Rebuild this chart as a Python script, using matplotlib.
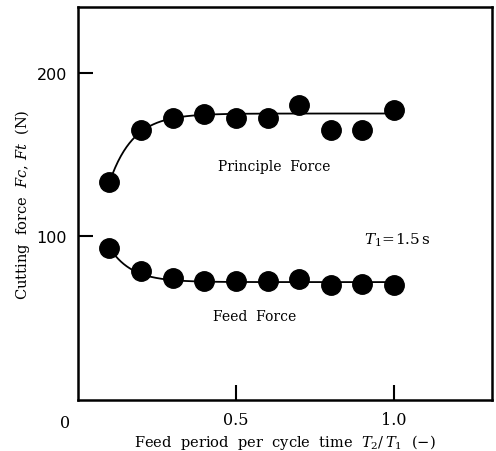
import numpy as np
import matplotlib
matplotlib.use("Agg")
import matplotlib.pyplot as plt

plt.rcParams['font.family'] = ['DejaVu Serif']
plt.rcParams['mathtext.fontset'] = 'dejavuserif'

# Measured cutting forces versus feed ratio T2/T1
ratio = [0.1, 0.2, 0.3, 0.4, 0.5, 0.6, 0.7, 0.8, 0.9, 1.0]
principal_force = [133, 165, 172, 175, 172, 172, 180, 165, 165, 177]
feed_force = [93, 79, 74.5, 72.5, 72.5, 72.5, 74, 70, 71, 70]

# Saturating trend lines: plateau, initial value, decay length
principal_fit = (175, 133, 0.075)
feed_fit = (72, 93, 0.07)

x_ticks = [0.5, 1.0]
x_tick_labels = ["0.5", "1.0"]
y_ticks = [100, 200]
y_tick_labels = ["100", "200"]


def trend(x, params):
    plateau, start, scale = params
    return plateau + (start - plateau) * np.exp(-(x - ratio[0]) / scale)


fig = plt.figure(figsize=(4.96, 4.52), dpi=100)
ax = fig.add_axes([0.157, 0.113, 0.835, 0.869])

xs = np.linspace(ratio[0], ratio[-1], 300)
ax.plot(xs, trend(xs, principal_fit), color='black', lw=1.3)
ax.plot(xs, trend(xs, feed_fit), color='black', lw=1.3)
ax.plot(ratio, principal_force, 'o', color='black', ms=14)
ax.plot(ratio, feed_force, 'o', color='black', ms=14)

ax.set_xlim(0, 1.31)
ax.set_ylim(0, 240)
ax.set_xticks(x_ticks)
ax.set_xticklabels(x_tick_labels, fontsize=11.5)
ax.set_yticks(y_ticks)
ax.set_yticklabels(y_tick_labels, fontsize=11.5, family='DejaVu Sans')
ax.tick_params(direction='in', length=11, width=1.5, pad=8)
for s in ax.spines.values():
    s.set_linewidth(1.8)

ax.text(-0.03, -0.035, "0", transform=ax.transAxes, ha='center', va='top', fontsize=11.5)

ax.text(0.62, 143, "Principle  Force", ha='center', va='center', fontsize=10)
ax.text(0.56, 51, "Feed  Force", ha='center', va='center', fontsize=10)
ax.text(1.01, 98, r"$T_1\!=\!1.5\,$s", ha='center', va='center', fontsize=11)

ax.set_xlabel(r"Feed  period  per  cycle  time  $T_2/\,T_1$  (−)", fontsize=10.5, labelpad=3)
ax.set_ylabel(r"Cutting  force  $Fc$, $Ft$  (N)", fontsize=10.5, labelpad=3)

fig.savefig("out.png", dpi=100)
